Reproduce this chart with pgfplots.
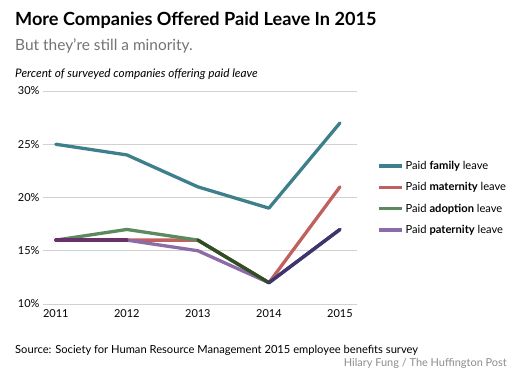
\documentclass[border=0pt]{standalone}
\usepackage{fontspec}
\setmainfont{Lato}
\usepackage{pgfplots}
\pgfplotsset{compat=1.18}
\definecolor{famc}{RGB}{61,127,139}
\definecolor{matc}{RGB}{192,96,95}
\definecolor{adoc}{RGB}{90,138,94}
\definecolor{patc}{RGB}{141,106,168}
\definecolor{mpc}{RGB}{105,48,108}
\definecolor{mac}{RGB}{48,78,34}
\definecolor{apc}{RGB}{62,52,110}
\begin{document}
\begin{tikzpicture}[x=1bp,y=1bp]
\path (0,0) rectangle (520,-376);
\node[anchor=base west,inner sep=0pt,font=\fontsize{18.2}{22}\selectfont\bfseries] at (15,-25) {More Companies Offered Paid Leave In 2015};
\node[anchor=base west,inner sep=0pt,text=black!55,font=\fontsize{15.5}{18}\selectfont] at (15,-50) {But they're still a minority.};
\node[anchor=base west,inner sep=0pt,font=\fontsize{11.8}{14}\selectfont\itshape] at (15,-77) {Percent of surveyed companies offering paid leave};
\begin{axis}[at={(43bp,-304bp)}, anchor=south west, scale only axis,
  width=314bp, height=213bp,
  xmin=2010.82, xmax=2015.24, ymin=10, ymax=30,
  axis line style={draw=none}, tick style={draw=none},
  ymajorgrids, grid style={color=black!18, line width=0.9pt},
  ytick={10,15,20,25,30}, xtick={2011,2012,2013,2014,2015},
  yticklabel={\pgfmathprintnumber{\tick}\%},
  /pgf/number format/assume math mode=true,
  /pgf/number format/1000 sep={},
  ticklabel style={font=\fontsize{11}{13}\selectfont},
  yticklabel style={anchor=east, xshift=0bp},
  xticklabel style={yshift=-2bp},
  clip=false,
  legend style={at={(1.054,0.69)}, anchor=north west, draw=none, fill=none,
    font=\fontsize{11.2}{13}\selectfont, row sep=7.5bp},
  legend cell align=left,
  legend image code/.code={\draw[line width=3.5bp,line cap=butt] (0bp,0bp) -- (23bp,0bp);},
  every axis plot/.append style={line width=3.3bp, line cap=round, line join=round},
]
\addplot[famc] coordinates {(2011,25) (2012,24) (2013,21) (2014,19) (2015,27)};
\addlegendentry{Paid \textbf{family} leave}
\addplot[matc] coordinates {(2011,16) (2012,16) (2013,16) (2014,12) (2015,21)};
\addlegendentry{Paid \textbf{maternity} leave}
\addplot[adoc] coordinates {(2011,16) (2012,17) (2013,16) (2014,12) (2015,17)};
\addlegendentry{Paid \textbf{adoption} leave}
\addplot[patc] coordinates {(2011,16) (2012,16) (2013,15) (2014,12) (2015,17)};
\addlegendentry{Paid \textbf{paternity} leave}
\addplot[mpc, forget plot] coordinates {(2011,16) (2012,16)};
\addplot[mac, forget plot] coordinates {(2013,16) (2014,12)};
\addplot[apc, forget plot] coordinates {(2014,12) (2015,17)};
\end{axis}
\node[anchor=base west,inner sep=0pt,font=\fontsize{11.2}{13}\selectfont] at (15,-353) {Source: Society for Human Resource Management 2015 employee benefits survey};
\node[anchor=base east,inner sep=0pt,text=black!45,font=\fontsize{11}{13}\selectfont] at (507,-366) {Hilary Fung / The Huffington Post};
\end{tikzpicture}
\end{document}
